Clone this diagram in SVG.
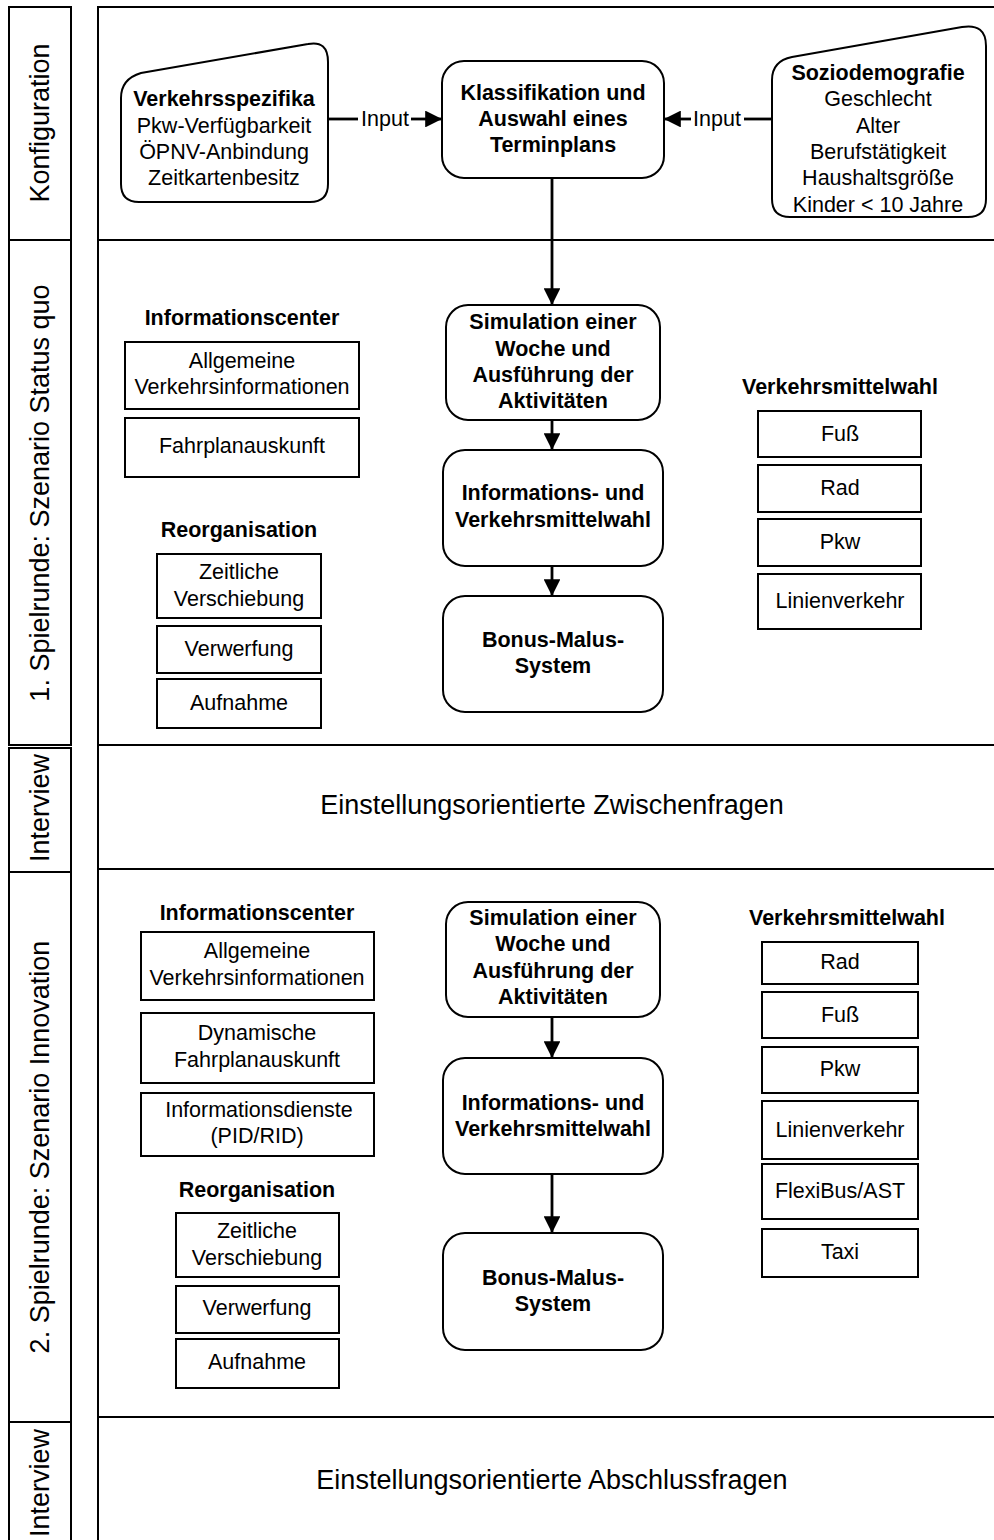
<svg xmlns="http://www.w3.org/2000/svg" width="994" height="1540" viewBox="0 0 994 1540">
<defs>
<style>
.t{font-family:"Liberation Sans",Arial,sans-serif;font-size:21.5px;fill:#000;text-anchor:middle}
.b{font-weight:bold}
.big{font-size:27px}
.lane{font-family:"Liberation Sans",Arial,sans-serif;font-size:27px;fill:#000;text-anchor:middle}
.box{fill:#fff;stroke:#000;stroke-width:2}
.frame{fill:none;stroke:#000;stroke-width:2}
.con{fill:none;stroke:#000;stroke-width:2.8}
</style>
<marker id="ah" viewBox="0 0 10 10" refX="10" refY="5" markerWidth="6.5" markerHeight="6" markerUnits="strokeWidth" orient="auto">
<path d="M0 0 L10 5 L0 10 Z" fill="#000"/>
</marker>
</defs>
<rect width="994" height="1540" fill="#fff"/>
<g id="lanes">
<rect class="frame" x="9" y="7" width="62" height="233"/>
<rect class="frame" x="9" y="240" width="62" height="505"/>
<rect class="frame" x="9" y="748" width="62" height="124"/>
<rect class="frame" x="9" y="872" width="62" height="550"/>
<path class="frame" d="M9 1545 L9 1422 L71 1422 L71 1545"/>
<text class="lane" transform="translate(49,123) rotate(-90)">Konfiguration</text>
<text class="lane" transform="translate(49,493) rotate(-90)">1. Spielrunde: Szenario Status quo</text>
<text class="lane" transform="translate(49,808) rotate(-90)">Interview</text>
<text class="lane" transform="translate(49,1147) rotate(-90)">2. Spielrunde: Szenario Innovation</text>
<text class="lane" transform="translate(49,1483) rotate(-90)">Interview</text>
<path class="frame" d="M996 7 L98 7 L98 1545"/>
<line class="frame" x1="98" y1="240" x2="996" y2="240"/>
<line class="frame" x1="98" y1="745" x2="996" y2="745"/>
<line class="frame" x1="98" y1="869" x2="996" y2="869"/>
<line class="frame" x1="98" y1="1417" x2="996" y2="1417" stroke-width="3"/>
<text class="t big" x="552" y="814">Einstellungsorientierte Zwischenfragen</text>
<text class="t big" x="552" y="1489">Einstellungsorientierte Abschlussfragen</text>
</g>
<g id="connectors">
<path class="con" d="M328 119 L358 119"/>
<path class="con" d="M411 119 L442 119" marker-end="url(#ah)"/>
<text class="t" x="385" y="126">Input</text>
<path class="con" d="M772 119 L744 119"/>
<path class="con" d="M691 119 L664 119" marker-end="url(#ah)"/>
<text class="t" x="717" y="126">Input</text>
<path class="con" d="M552 178 L552 305" marker-end="url(#ah)"/>
<path class="con" d="M552 420 L552 450" marker-end="url(#ah)"/>
<path class="con" d="M552 566 L552 596" marker-end="url(#ah)"/>
<path class="con" d="M552 1017 L552 1058" marker-end="url(#ah)"/>
<path class="con" d="M552 1174 L552 1233" marker-end="url(#ah)"/>
</g>
<g id="verkehrsspezifika">
<path class="box" d="M121 98 Q121 79 141 73 L308 44 Q328 40 328 62 L328 184 Q328 202 310 202 L139 202 Q121 202 121 184 Z"/>
<text class="t b" x="224" y="106">Verkehrsspezifika</text>
<text class="t" x="224" y="133">Pkw-Verfügbarkeit</text>
<text class="t" x="224" y="159">ÖPNV-Anbindung</text>
<text class="t" x="224" y="185">Zeitkartenbesitz</text>
</g>
<g id="klassifikation">
<rect class="box" x="442" y="61" width="222" height="117" rx="22"/>
<text class="t b" x="553" y="100">Klassifikation und</text>
<text class="t b" x="553" y="126">Auswahl eines</text>
<text class="t b" x="553" y="152">Terminplans</text>
</g>
<g id="soziodemografie">
<path class="box" d="M772 80 Q772 61 792 57 L962 27 Q986 23 986 46 L986 199 Q986 217 968 217 L790 217 Q772 217 772 199 Z"/>
<text class="t b" x="878" y="80">Soziodemografie</text>
<text class="t" x="878" y="106">Geschlecht</text>
<text class="t" x="878" y="133">Alter</text>
<text class="t" x="878" y="159">Berufstätigkeit</text>
<text class="t" x="878" y="185">Haushaltsgröße</text>
<text class="t" x="878" y="212">Kinder &lt; 10 Jahre</text>
</g>
<g id="r1-info">
<text class="t b" x="242" y="325">Informationscenter</text>
<rect class="box" x="125" y="342" width="234" height="67"/>
<text class="t" x="242" y="368">Allgemeine</text>
<text class="t" x="242" y="394">Verkehrsinformationen</text>
<rect class="box" x="125" y="418" width="234" height="59"/>
<text class="t" x="242" y="453">Fahrplanauskunft</text>
</g>
<g id="r1-reorg">
<text class="t b" x="239" y="537">Reorganisation</text>
<rect class="box" x="157" y="554" width="164" height="64"/>
<text class="t" x="239" y="579">Zeitliche</text>
<text class="t" x="239" y="606">Verschiebung</text>
<rect class="box" x="157" y="626" width="164" height="47"/>
<text class="t" x="239" y="656">Verwerfung</text>
<rect class="box" x="157" y="679" width="164" height="49"/>
<text class="t" x="239" y="710">Aufnahme</text>
</g>
<g id="r1-sim">
<rect class="box" x="446" y="305" width="214" height="115" rx="22"/>
<text class="t b" x="553" y="329">Simulation einer</text>
<text class="t b" x="553" y="356">Woche und</text>
<text class="t b" x="553" y="382">Ausführung der</text>
<text class="t b" x="553" y="408">Aktivitäten</text>
</g>
<g id="r1-wahl">
<rect class="box" x="443" y="450" width="220" height="116" rx="22"/>
<text class="t b" x="553" y="500">Informations- und</text>
<text class="t b" x="553" y="527">Verkehrsmittelwahl</text>
</g>
<g id="r1-bonus">
<rect class="box" x="443" y="596" width="220" height="116" rx="22"/>
<text class="t b" x="553" y="647">Bonus-Malus-</text>
<text class="t b" x="553" y="673">System</text>
</g>
<g id="r1-vm">
<text class="t b" x="840" y="394">Verkehrsmittelwahl</text>
<rect class="box" x="758" y="411" width="163" height="46"/>
<text class="t" x="840" y="441">Fuß</text>
<rect class="box" x="758" y="465" width="163" height="47"/>
<text class="t" x="840" y="495">Rad</text>
<rect class="box" x="758" y="519" width="163" height="47"/>
<text class="t" x="840" y="549">Pkw</text>
<rect class="box" x="758" y="574" width="163" height="55"/>
<text class="t" x="840" y="608">Linienverkehr</text>
</g>
<g id="r2-info">
<text class="t b" x="257" y="920">Informationscenter</text>
<rect class="box" x="141" y="932" width="233" height="68"/>
<text class="t" x="257" y="958">Allgemeine</text>
<text class="t" x="257" y="985">Verkehrsinformationen</text>
<rect class="box" x="141" y="1013" width="233" height="70"/>
<text class="t" x="257" y="1040">Dynamische</text>
<text class="t" x="257" y="1067">Fahrplanauskunft</text>
<rect class="box" x="141" y="1093" width="233" height="63"/>
<text class="t" x="259" y="1117">Informationsdienste</text>
<text class="t" x="257" y="1143">(PID/RID)</text>
</g>
<g id="r2-reorg">
<text class="t b" x="257" y="1197">Reorganisation</text>
<rect class="box" x="176" y="1213" width="163" height="64"/>
<text class="t" x="257" y="1238">Zeitliche</text>
<text class="t" x="257" y="1265">Verschiebung</text>
<rect class="box" x="176" y="1286" width="163" height="47"/>
<text class="t" x="257" y="1315">Verwerfung</text>
<rect class="box" x="176" y="1339" width="163" height="49"/>
<text class="t" x="257" y="1369">Aufnahme</text>
</g>
<g id="r2-sim">
<rect class="box" x="446" y="902" width="214" height="115" rx="22"/>
<text class="t b" x="553" y="925">Simulation einer</text>
<text class="t b" x="553" y="951">Woche und</text>
<text class="t b" x="553" y="978">Ausführung der</text>
<text class="t b" x="553" y="1004">Aktivitäten</text>
</g>
<g id="r2-wahl">
<rect class="box" x="443" y="1058" width="220" height="116" rx="22"/>
<text class="t b" x="553" y="1110">Informations- und</text>
<text class="t b" x="553" y="1136">Verkehrsmittelwahl</text>
</g>
<g id="r2-bonus">
<rect class="box" x="443" y="1233" width="220" height="117" rx="22"/>
<text class="t b" x="553" y="1285">Bonus-Malus-</text>
<text class="t b" x="553" y="1311">System</text>
</g>
<g id="r2-vm">
<text class="t b" x="847" y="925">Verkehrsmittelwahl</text>
<rect class="box" x="762" y="942" width="156" height="42"/>
<text class="t" x="840" y="969">Rad</text>
<rect class="box" x="762" y="992" width="156" height="46"/>
<text class="t" x="840" y="1022">Fuß</text>
<rect class="box" x="762" y="1047" width="156" height="46"/>
<text class="t" x="840" y="1076">Pkw</text>
<rect class="box" x="762" y="1101" width="156" height="58"/>
<text class="t" x="840" y="1137">Linienverkehr</text>
<rect class="box" x="762" y="1164" width="156" height="55"/>
<text class="t" x="840" y="1198">FlexiBus/AST</text>
<rect class="box" x="762" y="1229" width="156" height="48"/>
<text class="t" x="840" y="1259">Taxi</text>
</g>
</svg>
